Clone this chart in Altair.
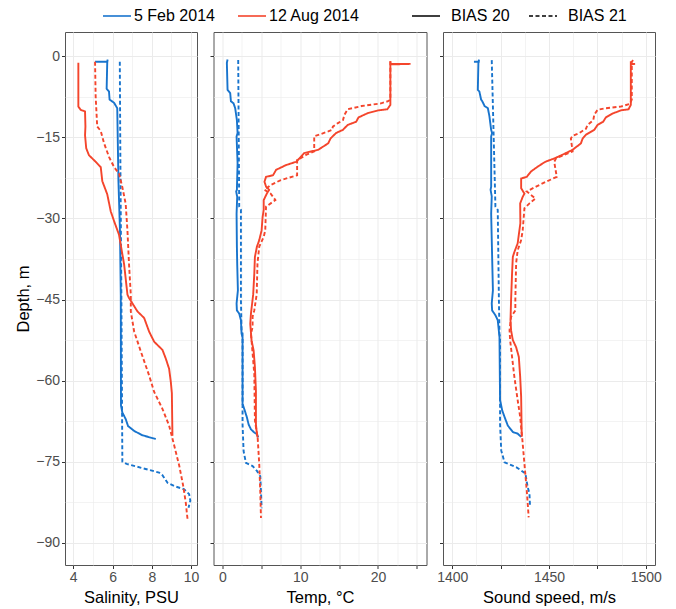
import pandas as pd
import altair as alt

# (value, depth in m), one list per profile
sal_feb20 = [(5.11, -1.0), (5.73, -1.0), (5.75, -0.6), (5.73, -1.2), (5.70, -6.0), (5.82, -6.5),
             (5.85, -8.0), (6.08, -8.6), (6.24, -9.6), (6.30, -23.0), (6.38, -32.5), (6.42, -44.2),
             (6.43, -64.6), (6.50, -65.9), (6.67, -67.1), (6.79, -68.4), (7.10, -69.3),
             (7.52, -70.1), (8.20, -70.8)]
sal_feb21 = [(6.37, -1.0), (6.40, -20.0), (6.45, -44.0), (6.50, -75.0), (6.72, -75.4),
             (8.37, -77.0), (8.54, -77.5), (8.80, -78.9), (9.14, -79.5), (9.65, -80.1),
             (9.90, -81.0), (9.96, -82.2), (9.87, -83.5)]
sal_aug20 = [(4.26, -1.2), (4.26, -9.3), (4.38, -9.9), (4.60, -10.2), (4.62, -13.0), (4.60, -14.6),
             (4.66, -17.0), (4.80, -18.3), (5.14, -19.5), (5.40, -20.5), (5.48, -23.1),
             (5.73, -25.5), (5.91, -28.7), (6.08, -30.5), (6.33, -33.0), (6.59, -38.5),
             (6.76, -44.1), (6.84, -44.7), (7.27, -47.2), (7.61, -48.4), (7.86, -50.9),
             (8.12, -52.8), (8.54, -54.3), (8.71, -55.9), (8.88, -57.8), (8.97, -60.3),
             (9.02, -62.3), (9.05, -70.2)]
sal_aug21 = [(5.11, -1.0), (5.14, -7.4), (5.22, -13.0), (5.40, -13.8), (5.57, -16.1), (5.82, -18.6),
             (6.08, -20.5), (6.33, -21.7), (6.50, -24.2), (6.67, -27.3), (6.76, -32.3),
             (6.84, -38.5), (6.93, -44.1), (6.93, -47.2), (7.10, -50.9), (7.44, -54.6),
             (7.86, -59.0), (8.12, -62.1), (8.54, -65.2), (8.88, -68.3), (9.14, -72.0),
             (9.40, -75.8), (9.60, -79.5), (9.73, -82.6), (9.82, -85.7)]

temp_feb20 = [(0.65, -0.6), (0.56, -1.2), (0.65, -6.2), (0.99, -6.8), (1.08, -8.3), (1.42, -8.7),
              (1.63, -9.6), (1.85, -11.8), (1.94, -14.2), (1.81, -14.8), (1.94, -19.8),
              (1.85, -24.7), (1.76, -25.0), (1.89, -26.0), (1.81, -29.1), (1.85, -35.2),
              (1.89, -38.3), (1.98, -43.3), (1.81, -45.7), (1.85, -47.0), (2.15, -47.6),
              (2.37, -48.8), (2.45, -51.3), (2.58, -52.0), (2.58, -64.3), (2.88, -65.6),
              (3.14, -66.8), (3.36, -68.1), (3.66, -69.0), (4.09, -69.6), (4.43, -69.9),
              (4.60, -70.5)]
temp_feb21 = [(2.02, -0.7), (2.15, -27.8), (2.37, -28.4), (2.37, -45.0), (2.45, -50.7),
              (2.58, -51.3), (2.58, -68.1), (2.71, -73.0), (3.01, -75.2), (3.87, -75.8),
              (4.43, -76.7), (4.86, -77.7), (4.95, -80.5), (5.03, -83.6)]
temp_aug20 = [(21.6, -0.9), (21.6, -1.4), (24.2, -1.4), (21.6, -1.5), (21.6, -9.0), (21.2, -9.8),
              (20.0, -10.0), (18.7, -10.5), (17.5, -11.3), (17.2, -12.1), (16.1, -12.7),
              (15.5, -13.6), (14.6, -14.2), (13.9, -15.2), (13.6, -16.1), (12.3, -17.3),
              (10.5, -17.9), (9.5, -19.5), (8.2, -20.1), (6.9, -21.0), (6.5, -22.0), (5.6, -22.3),
              (5.4, -23.2), (5.6, -24.1), (6.0, -24.7), (5.7, -25.4), (5.3, -26.6), (5.3, -28.4),
              (5.16, -29.7), (5.03, -32.2), (4.73, -34.0), (4.43, -35.2), (4.17, -37.1),
              (4.09, -40.2), (3.95, -44.0), (3.66, -47.6), (3.57, -49.5), (3.74, -52.6),
              (4.0, -54.4), (4.17, -57.5), (4.3, -61.9), (4.3, -68.1), (4.43, -69.9), (4.52, -70.5)]
temp_aug21 = [(21.6, -0.9), (21.6, -8.0), (21.3, -8.3), (20.4, -8.7), (17.9, -9.2), (16.1, -9.8),
              (15.7, -10.8), (15.5, -11.8), (14.8, -12.4), (14.2, -13.0), (14.1, -13.6),
              (13.6, -13.9), (11.8, -14.8), (11.8, -17.6), (10.8, -18.2), (9.6, -19.2),
              (9.6, -22.0), (7.5, -22.9), (6.2, -23.8), (5.4, -24.7), (6.2, -25.4), (6.8, -26.6),
              (6.2, -27.2), (5.6, -27.8), (5.5, -32.2), (5.3, -33.4), (4.73, -35.2), (4.5, -38.3),
              (4.4, -44.0), (4.09, -47.0), (3.87, -48.2), (3.87, -50.1), (3.66, -51.3),
              (3.74, -52.6), (4.09, -58.8), (4.17, -67.4), (4.52, -70.5), (4.73, -75.5),
              (4.86, -80.5), (4.95, -85.4)]

snd_feb20 = [(1411.2, -1.0), (1413.7, -1.0), (1413.8, -0.6), (1413.5, -1.2), (1413.2, -6.2),
             (1414.0, -6.5), (1414.9, -8.0), (1415.5, -8.3), (1416.7, -9.2), (1418.4, -9.6),
             (1419.2, -11.1), (1420.1, -13.6), (1420.6, -14.2), (1420.1, -14.8), (1420.1, -24.1),
             (1419.8, -24.7), (1420.4, -25.9), (1420.1, -29.1), (1420.6, -37.1), (1421.0, -43.3),
             (1420.4, -45.7), (1420.6, -47.0), (1422.3, -47.9), (1423.5, -48.8), (1424.4, -51.9),
             (1424.7, -63.6), (1425.8, -65.5), (1427.0, -66.7), (1428.7, -68.3), (1431.3, -69.5),
             (1433.8, -69.8), (1435.6, -70.4)]
snd_feb21 = [(1420.4, -0.7), (1422.3, -27.8), (1423.5, -28.4), (1424.1, -45.0), (1424.4, -51.3),
             (1424.7, -52.0), (1424.7, -68.0), (1425.3, -72.9), (1427.0, -75.1), (1429.6, -75.5),
             (1433.0, -76.0), (1435.6, -76.6), (1437.8, -77.2), (1439.0, -79.7), (1439.9, -80.9),
             (1440.2, -83.4)]
snd_aug20 = [(1492.3, -0.9), (1492.3, -1.4), (1494.5, -1.4), (1492.3, -1.5), (1492.3, -9.0),
             (1491.1, -9.8), (1487.1, -10.0), (1482.8, -10.6), (1479.4, -11.3), (1478.0, -12.1),
             (1475.1, -12.7), (1473.4, -13.6), (1469.1, -14.5), (1467.4, -15.2), (1466.5, -16.1),
             (1462.2, -17.3), (1457.0, -18.2), (1452.7, -18.9), (1448.1, -19.5), (1444.2, -20.4),
             (1440.7, -21.3), (1438.5, -22.3), (1435.6, -22.6), (1435.6, -24.4), (1437.3, -25.4),
             (1436.4, -26.0), (1435.1, -27.2), (1435.2, -30.9), (1434.7, -32.2), (1433.8, -34.6),
             (1432.1, -36.2), (1431.3, -37.1), (1430.9, -40.2), (1430.4, -45.0), (1430.1, -48.8),
             (1430.4, -50.7), (1431.3, -52.5), (1433.0, -53.8), (1434.4, -55.6), (1435.1, -59.3),
             (1435.6, -63.0), (1435.9, -70.4)]
snd_aug21 = [(1493.5, -0.7), (1492.8, -1.0), (1492.8, -8.0), (1491.8, -8.8), (1487.1, -9.3),
             (1479.4, -9.6), (1475.1, -9.9), (1473.4, -10.8), (1472.9, -11.8), (1469.9, -12.7),
             (1469.1, -13.4), (1465.6, -14.2), (1462.2, -14.7), (1461.3, -15.2), (1462.2, -17.6),
             (1457.9, -18.2), (1453.6, -18.9), (1452.7, -19.5), (1454.0, -22.3), (1448.5, -23.2),
             (1443.3, -24.1), (1438.5, -25.0), (1443.0, -26.3), (1439.9, -27.2), (1437.3, -28.1),
             (1436.4, -32.2), (1435.6, -34.0), (1433.8, -35.9), (1433.0, -38.3), (1432.6, -45.0),
             (1432.6, -47.0), (1430.4, -48.2), (1429.6, -50.7), (1429.9, -52.5), (1430.9, -55.6),
             (1432.1, -59.3), (1433.8, -63.6), (1435.1, -66.7), (1436.1, -70.4), (1437.3, -75.4),
             (1438.5, -80.3), (1439.5, -85.3)]

dates = ["5 Feb 2014", "12 Aug 2014"]
date_colors = ["#1874CD", "#F4452C"]
biases = ["BIAS 20", "BIAS 21"]

depth_grid = [0, -7.5, -15, -22.5, -30, -37.5, -45, -52.5, -60, -67.5, -75, -82.5, -90]
sal_grid = [4, 5, 6, 7, 8, 9, 10]
temp_grid = [0, 2.5, 5, 7.5, 10, 12.5, 15, 17.5, 20, 22.5, 25]
snd_grid = [1400, 1412.5, 1425, 1437.5, 1450, 1462.5, 1475, 1487.5, 1500]

FONT = "Liberation Sans"
# a long flat key line that keeps the legend rows low
KEY_LINE = "M-2,0H2"


def profile_frame(feb20, feb21, aug20, aug21):
    rows = []
    sets = [(feb20, dates[0], biases[0]), (feb21, dates[0], biases[1]),
            (aug20, dates[1], biases[0]), (aug21, dates[1], biases[1])]
    for pts, date, bias in sets:
        for i, (v, d) in enumerate(pts):
            rows.append({"value": v, "depth": d, "date": date, "bias": bias, "idx": i})
    return pd.DataFrame(rows)


def every(step):
    return f"abs(datum.value % {step}) < 0.001"


def panel(df, title, domain, grid, tick_step, label_step, width, first):
    x_axis = alt.Axis(
        values=grid, title=title, labelOverlap=False, labelFlush=False, format="d",
        tickOpacity={"expr": f"{every(tick_step)} ? 1 : 0"},
        gridWidth={"expr": f"{every(tick_step)} ? 1 : 0.6"},
        labelExpr=f"{every(label_step)} ? datum.label : ''",
    )
    if first:
        y_axis = alt.Axis(
            values=depth_grid, title="Depth, m", labelOverlap=False, labelFlush=False,
            tickOpacity={"expr": f"{every(15)} ? 1 : 0"},
            gridWidth={"expr": f"{every(15)} ? 1 : 0.6"},
            labelExpr=f"{every(15)} ? datum.label : ''",
        )
    else:
        y_axis = alt.Axis(
            values=depth_grid, title=None, labels=False,
            tickOpacity={"expr": f"{every(15)} ? 1 : 0"},
            gridWidth={"expr": f"{every(15)} ? 1 : 0.6"},
        )

    return alt.Chart(df).mark_line(strokeWidth=1.9).encode(
        x=alt.X("value:Q", scale=alt.Scale(domain=domain, nice=False, zero=False), axis=x_axis),
        y=alt.Y("depth:Q", scale=alt.Scale(domain=[-94.1, 4.5], nice=False, zero=False), axis=y_axis),
        color=alt.Color("date:N", scale=alt.Scale(domain=dates, range=date_colors),
                        legend=alt.Legend(title=None, orient="none", direction="horizontal",
                                          legendX=44, legendY=-24, symbolType=KEY_LINE,
                                          symbolSize=196, symbolStrokeWidth=1.6,
                                          columnPadding=19, labelOffset=9)),
        strokeDash=alt.StrokeDash("bias:N", scale=alt.Scale(domain=biases, range=[[1, 0], [4, 2.5]]),
                                  legend=alt.Legend(title=None, orient="none", direction="horizontal",
                                                    legendX=353, legendY=-24, symbolType=KEY_LINE,
                                                    symbolSize=196, symbolStrokeWidth=1.4,
                                                    symbolStrokeColor="black",
                                                    columnPadding=16, labelOffset=17)),
        order="idx:Q",
    ).properties(width=width, height=533)


sal = panel(profile_frame(sal_feb20, sal_feb21, sal_aug20, sal_aug21),
            "Salinity, PSU", [3.58, 10.3], sal_grid, 2, 2, 132, True)
temp = panel(profile_frame(temp_feb20, temp_feb21, temp_aug20, temp_aug21),
             "Temp, °C", [-1.16, 26.25], temp_grid, 5, 10, 213, False)
snd = panel(profile_frame(snd_feb20, snd_feb21, snd_aug20, snd_aug21),
            "Sound speed, m/s", [1395.2, 1504.8], snd_grid, 25, 50, 212, False)

chart = alt.hconcat(sal, temp, snd, spacing=16.5, bounds="flush").resolve_scale(
    x="independent", y="independent"
).properties(
    padding={"left": 7, "top": 0, "right": 5, "bottom": 5}
).configure(
    font=FONT
).configure_view(
    stroke="#555555", strokeWidth=1
).configure_axis(
    domain=False, gridColor="#EBEBEB", tickColor="#333333", tickSize=3.5,
    labelColor="#4D4D4D", labelFontSize=14, labelPadding=2, labelFont=FONT,
    titleFontSize=16.5, titleFontWeight="normal", titleColor="black", titleFont=FONT,
).configure_axisX(
    titlePadding=5
).configure_axisY(
    titlePadding=4
).configure_legend(
    labelFontSize=16, labelColor="black", labelFont=FONT
)

chart.save("out.html", embed_options={"renderer": "svg", "actions": False})
